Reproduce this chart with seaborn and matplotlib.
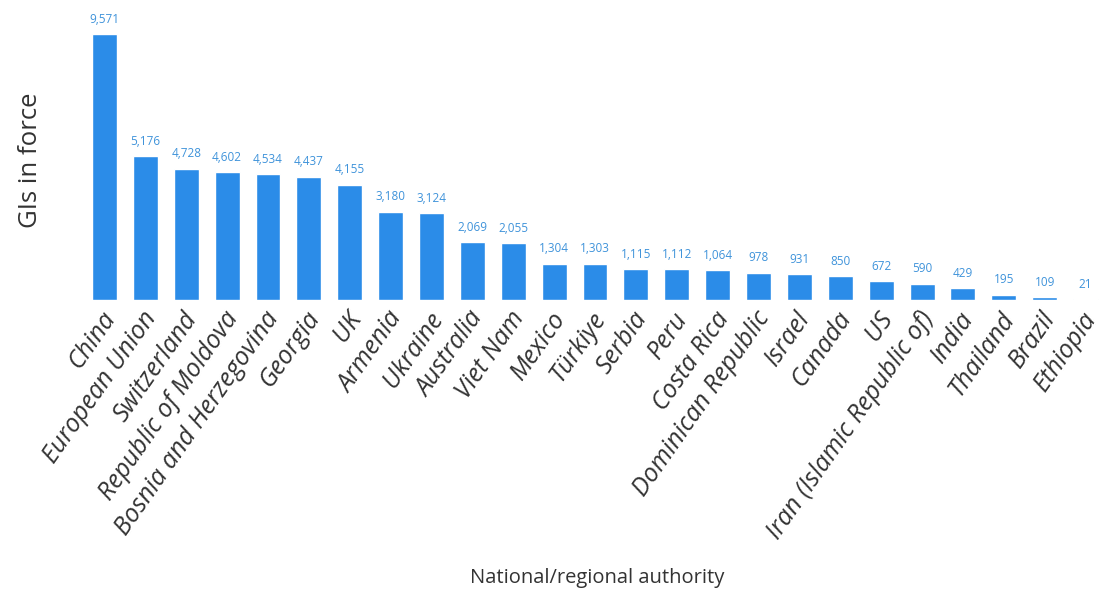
import matplotlib
matplotlib.use("Agg")
import matplotlib.pyplot as plt
import matplotlib.transforms as mtransforms
import seaborn as sns
import pandas as pd

authorities = [
    "China", "European Union", "Switzerland", "Republic of Moldova",
    "Bosnia and Herzegovina", "Georgia", "UK", "Armenia", "Ukraine",
    "Australia", "Viet Nam", "Mexico", "Türkiye", "Serbia", "Peru",
    "Costa Rica", "Dominican Republic", "Israel", "Canada", "US",
    "Iran (Islamic Republic of)", "India", "Thailand", "Brazil", "Ethiopia",
]
gis_in_force = [
    9571, 5176, 4728, 4602, 4534, 4437, 4155, 3180, 3124, 2069, 2055,
    1304, 1303, 1115, 1112, 1064, 978, 931, 850, 672, 590, 429, 195, 109, 21,
]

df = pd.DataFrame({"authority": authorities, "gis": gis_in_force})

sns.set_theme(style="white")
plt.rcParams["font.family"] = ["Open Sans", "DejaVu Sans"]

BAR = "#2B8CE8"
LABEL = "#3F93DA"
TEXT = "#333333"

fig = plt.figure(figsize=(11.06, 6.01), dpi=100)
ax = fig.add_axes([0.076, 0.5008, 0.924, 0.4626])

sns.barplot(data=df, x="authority", y="gis", color=BAR, saturation=1,
            width=0.61, ax=ax)

for i, v in enumerate(gis_in_force):
    ax.annotate(f"{v:,}", (i, v), xytext=(0, 6), textcoords="offset points",
                ha="center", va="bottom", fontsize=8.5, color=LABEL)

ax.set_ylim(0, 10000)
ax.set_xlim(-0.5, len(authorities) - 0.5)
ax.set_yticks([])
for s in ax.spines.values():
    s.set_visible(False)

ax.tick_params(axis="x", length=0, pad=5)
ax.set_xticks(range(len(authorities)))
ax.set_xticklabels(authorities, rotation=55, ha="right",
                   rotation_mode="anchor", fontsize=18, fontstyle="italic",
                   color=TEXT)
# nudge the slanted labels slightly left so their ends sit under the bars
shift = mtransforms.ScaledTranslation(-4 / 100, 0, fig.dpi_scale_trans)
for lbl in ax.get_xticklabels():
    lbl.set_transform(lbl.get_transform() + shift)

ax.set_ylabel("")
ax.set_xlabel("")
fig.text(0.028, 0.734, "GIs in force", rotation=90, ha="center",
         va="center", fontsize=18.5, color=TEXT)
fig.text(0.54, 0.038, "National/regional authority", ha="center",
         va="center", fontsize=14.5, color=TEXT)

fig.savefig("out.png", dpi=100)
